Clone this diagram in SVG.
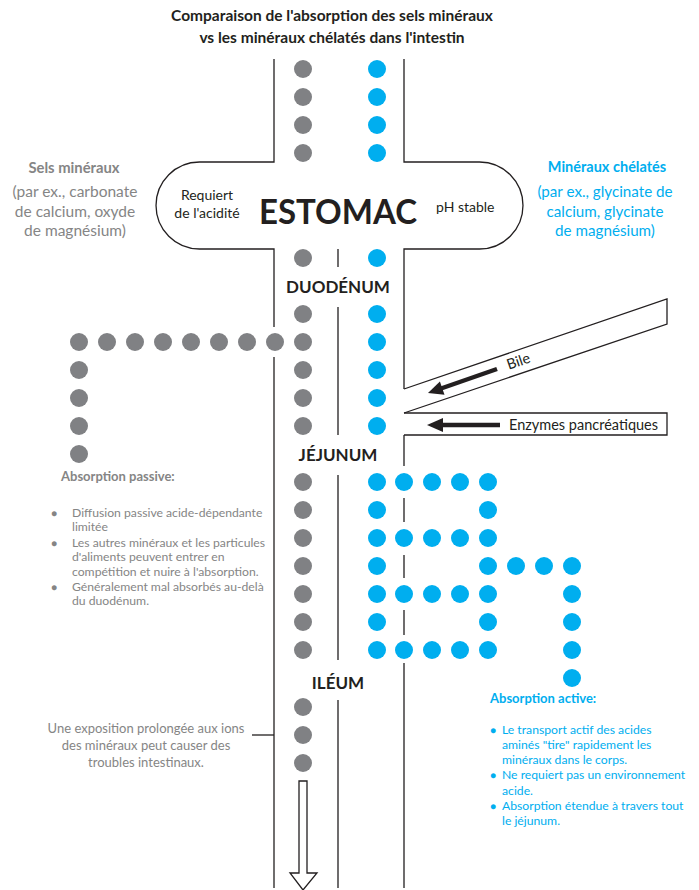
<svg xmlns="http://www.w3.org/2000/svg" width="699" height="890" viewBox="0 0 699 890">
<style>
text{font-family:Lato,"Liberation Sans",sans-serif}
.w{fill:none;stroke:#231f20;stroke-width:1.3}
.g{fill:#808184}
.b{fill:#00aeef}
.dk{fill:#231f20}
.gt{fill:#858585}
.bt{fill:#00aeef}
.bold{font-weight:bold}
.lbl{font-size:17px;font-weight:bold;fill:#231f20;text-anchor:middle}
</style>
<defs>
<circle id="gd" r="9" class="g"/>
<circle id="bd" r="9" class="b"/>
</defs>
<rect width="699" height="890" fill="#fff"/>

<g id="title">
<text x="332" y="21" class="dk bold" font-size="15.5" text-anchor="middle">Comparaison de l'absorption des sels minéraux</text>
<text x="332" y="43" class="dk bold" font-size="15.5" text-anchor="middle">vs les minéraux chélatés dans l'intestin</text>
</g>

<g id="tube">
<path class="w" d="M274,59 V162 H199.5 A43.5,43.5 0 0 0 199.5,249 H274 V327"/>
<path class="w" d="M404,59 V162 H479.5 A43.5,43.5 0 0 1 479.5,249 H404 V389"/>
<path class="w" d="M274,357 V888"/>
<path class="w" d="M338,249 V267 M338,307 V435 M338,475 V660 M338,700 V888"/>
<path class="w" d="M404,435 V466 M404,498 V522 M404,555 V578 M404,610 V635 M404,663 V888"/>
</g>

<g id="bile">
<path class="w" d="M404,389 L667,299 V324 L404,413"/>
<text x="520" y="366" class="dk" font-size="14.5" text-anchor="middle" transform="rotate(-19 520 366)">Bile</text>
</g>

<g id="enzymes">
<path class="w" d="M404,413 H667 V435 H404"/>
<text x="509" y="430" class="dk" font-size="14.5">Enzymes pancréatiques</text>
</g>

<g id="connectors">
<line x1="497" y1="369" x2="441" y2="388.5" stroke="#231f20" stroke-width="4.5"/>
<polygon points="428,393 444.5,394.7 439.9,381.5" class="dk"/>
<line x1="500" y1="425" x2="440" y2="425" stroke="#231f20" stroke-width="4.5"/>
<polygon points="427,425 443,418 443,432" class="dk"/>
<path class="w" d="M252,735 H274"/>
<path fill="#fff" stroke="#231f20" stroke-width="1.3" d="M299,781 H307 V873 H317 L303,890 L290,873 H299 Z"/>
</g>

<g id="stomach-text">
<text x="338" y="224" class="dk bold" font-size="35" text-anchor="middle" textLength="158" lengthAdjust="spacingAndGlyphs">ESTOMAC</text>
<text x="207" y="200" class="dk" font-size="14" text-anchor="middle">Requiert</text>
<text x="207" y="218" class="dk" font-size="14" text-anchor="middle">de l'acidité</text>
<text x="436" y="212" class="dk" font-size="14">pH stable</text>
</g>

<g id="labels">
<text x="338" y="293" class="lbl">DUODÉNUM</text>
<text x="338" y="461" class="lbl">JÉJUNUM</text>
<text x="338" y="689" class="lbl">ILÉUM</text>
</g>

<g id="sels">
<text x="74" y="173" class="gt bold" font-size="14.8" text-anchor="middle">Sels minéraux</text>
<text x="75" y="197" class="gt" font-size="15.5" text-anchor="middle">(par ex., carbonate</text>
<text x="75" y="217" class="gt" font-size="15.5" text-anchor="middle">de calcium, oxyde</text>
<text x="75" y="236" class="gt" font-size="15.5" text-anchor="middle">de magnésium)</text>
</g>

<g id="chelates">
<text x="607" y="172" class="bt bold" font-size="14.5" text-anchor="middle">Minéraux chélatés</text>
<text x="605" y="197" class="bt" font-size="15.2" text-anchor="middle">(par ex., glycinate de</text>
<text x="605" y="217" class="bt" font-size="15.2" text-anchor="middle">calcium, glycinate</text>
<text x="605" y="236" class="bt" font-size="15.2" text-anchor="middle">de magnésium)</text>
</g>

<g id="passive">
<text x="61" y="481" class="gt bold" font-size="13">Absorption passive:</text>
<g class="gt" font-size="12.2">
<text x="51" y="517" font-size="10">●</text>
<text x="51" y="547" font-size="10">●</text>
<text x="51" y="591" font-size="10">●</text>
<text x="72" y="517">Diffusion passive acide-dépendante</text>
<text x="72" y="531">limitée</text>
<text x="72" y="547">Les autres minéraux et les particules</text>
<text x="72" y="561">d'aliments peuvent entrer en</text>
<text x="72" y="576">compétition et nuire à l'absorption.</text>
<text x="72" y="591">Généralement mal absorbés au-delà</text>
<text x="72" y="605">du duodénum.</text>
</g>
</g>

<g id="active">
<text x="490" y="703" class="bt bold" font-size="13">Absorption active:</text>
<g class="bt" font-size="12.2">
<text x="490" y="734" font-size="10">●</text>
<text x="490" y="779" font-size="10">●</text>
<text x="490" y="810" font-size="10">●</text>
<text x="502" y="734">Le transport actif des acides</text>
<text x="502" y="749">aminés "tire" rapidement les</text>
<text x="502" y="764">minéraux dans le corps.</text>
<text x="502" y="779">Ne requiert pas un environnement</text>
<text x="502" y="795">acide.</text>
<text x="502" y="810">Absorption étendue à travers tout</text>
<text x="502" y="825">le jéjunum.</text>
</g>
</g>

<g id="exposition">
<text x="146" y="733" class="gt" font-size="13" text-anchor="middle">Une exposition prolongée aux ions</text>
<text x="146" y="750" class="gt" font-size="13" text-anchor="middle">des minéraux peut causer des</text>
<text x="146" y="767" class="gt" font-size="13" text-anchor="middle">troubles intestinaux.</text>
</g>

<g id="gray-dots">
<use href="#gd" x="303" y="69"/><use href="#gd" x="303" y="97"/><use href="#gd" x="303" y="125"/><use href="#gd" x="303" y="153"/>
<use href="#gd" x="303" y="258"/><use href="#gd" x="303" y="314"/><use href="#gd" x="303" y="342"/><use href="#gd" x="303" y="370"/><use href="#gd" x="303" y="398"/><use href="#gd" x="303" y="426"/>
<use href="#gd" x="79" y="342"/><use href="#gd" x="107" y="342"/><use href="#gd" x="135" y="342"/><use href="#gd" x="163" y="342"/><use href="#gd" x="191" y="342"/><use href="#gd" x="219" y="342"/><use href="#gd" x="247" y="342"/><use href="#gd" x="275" y="342"/>
<use href="#gd" x="79" y="370"/><use href="#gd" x="79" y="398"/><use href="#gd" x="79" y="426"/><use href="#gd" x="79" y="454"/>
<use href="#gd" x="303" y="482"/><use href="#gd" x="303" y="510"/><use href="#gd" x="303" y="538"/><use href="#gd" x="303" y="566"/><use href="#gd" x="303" y="594"/><use href="#gd" x="303" y="622"/><use href="#gd" x="303" y="650"/>
<use href="#gd" x="303" y="707"/><use href="#gd" x="303" y="735"/><use href="#gd" x="303" y="763"/>
</g>

<g id="blue-dots">
<use href="#bd" x="377" y="69"/><use href="#bd" x="377" y="97"/><use href="#bd" x="377" y="125"/><use href="#bd" x="377" y="153"/>
<use href="#bd" x="377" y="258"/><use href="#bd" x="377" y="314"/><use href="#bd" x="377" y="342"/><use href="#bd" x="377" y="370"/><use href="#bd" x="377" y="398"/><use href="#bd" x="377" y="426"/>
<use href="#bd" x="377" y="482"/><use href="#bd" x="404" y="482"/><use href="#bd" x="432" y="482"/><use href="#bd" x="460" y="482"/><use href="#bd" x="488" y="482"/>
<use href="#bd" x="377" y="510"/><use href="#bd" x="488" y="510"/>
<use href="#bd" x="377" y="538"/><use href="#bd" x="404" y="538"/><use href="#bd" x="432" y="538"/><use href="#bd" x="460" y="538"/><use href="#bd" x="488" y="538"/>
<use href="#bd" x="377" y="566"/><use href="#bd" x="488" y="566"/><use href="#bd" x="516" y="566"/><use href="#bd" x="544" y="566"/><use href="#bd" x="572" y="566"/>
<use href="#bd" x="377" y="594"/><use href="#bd" x="404" y="594"/><use href="#bd" x="432" y="594"/><use href="#bd" x="460" y="594"/><use href="#bd" x="488" y="594"/><use href="#bd" x="572" y="594"/>
<use href="#bd" x="377" y="622"/><use href="#bd" x="488" y="622"/><use href="#bd" x="572" y="622"/>
<use href="#bd" x="377" y="650"/><use href="#bd" x="404" y="650"/><use href="#bd" x="432" y="650"/><use href="#bd" x="460" y="650"/><use href="#bd" x="488" y="650"/><use href="#bd" x="572" y="650"/>
<use href="#bd" x="572" y="678"/>
</g>
</svg>
